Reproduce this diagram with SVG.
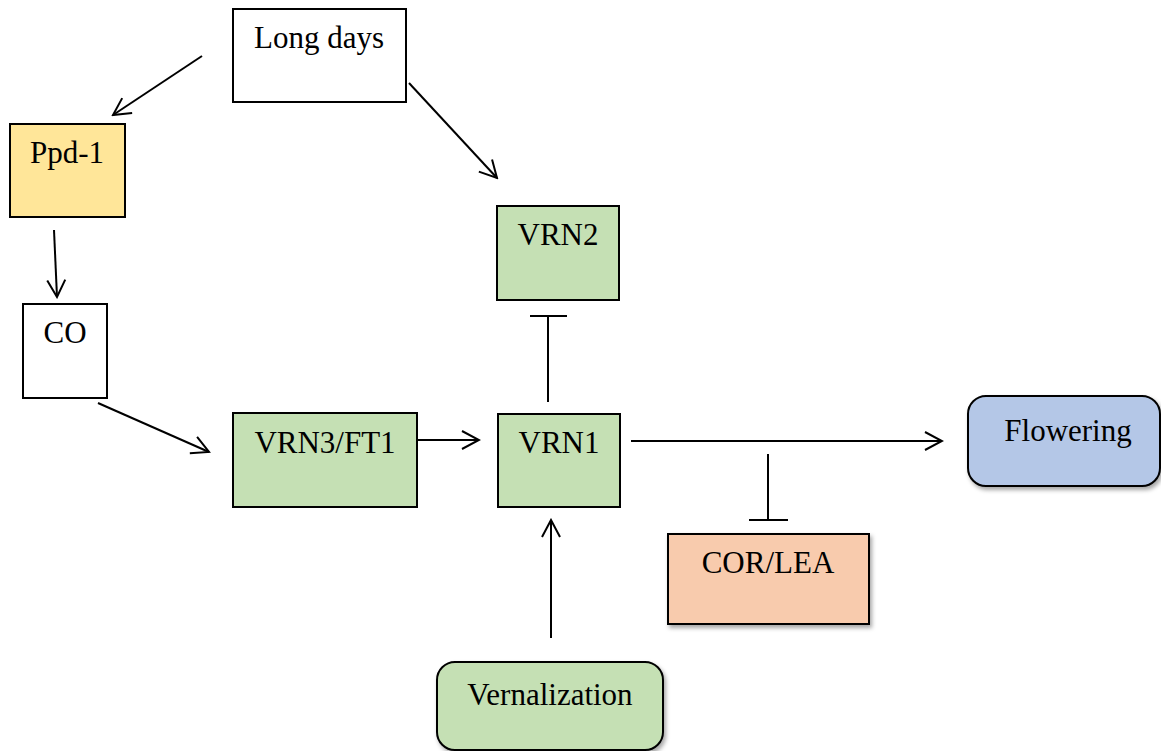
<svg xmlns="http://www.w3.org/2000/svg" width="1161" height="751" viewBox="0 0 1161 751">
  <style>
    .box { stroke: #000; stroke-width: 2; }
    .lbl { font-family: "Liberation Serif", "Times New Roman", serif; font-size: 31px; fill: #000; text-anchor: middle; }
    .conn { stroke: #000; stroke-width: 2; fill: none; }
  </style>
  <defs>
    <marker id="arr" viewBox="-19 -11 21 22" markerWidth="21" markerHeight="22" refX="0" refY="0" orient="auto" markerUnits="userSpaceOnUse">
      <path d="M-17,-9 L0,0 L-17,9" fill="none" stroke="#000" stroke-width="2"/>
    </marker>
    <filter id="sh" x="-10%" y="-10%" width="125%" height="130%">
      <feDropShadow dx="2" dy="3" stdDeviation="2" flood-color="#000" flood-opacity="0.35"/>
    </filter>
  </defs>
  <rect width="1161" height="751" fill="#fff"/>

  <g id="connectors">
    <line class="conn" x1="202" y1="56" x2="113" y2="115" marker-end="url(#arr)"/>
    <line class="conn" x1="409" y1="83" x2="497" y2="178" marker-end="url(#arr)"/>
    <line class="conn" x1="54" y1="230" x2="57" y2="297" marker-end="url(#arr)"/>
    <line class="conn" x1="98" y1="403" x2="209" y2="452" marker-end="url(#arr)"/>
    <line class="conn" x1="417" y1="440" x2="479" y2="440" marker-end="url(#arr)"/>
    <line class="conn" x1="631" y1="441" x2="942" y2="441" marker-end="url(#arr)"/>
    <line class="conn" x1="551" y1="638" x2="551" y2="520" marker-end="url(#arr)"/>
    <line class="conn" x1="548" y1="402" x2="548" y2="316"/>
    <line class="conn" x1="530" y1="316" x2="567" y2="316"/>
    <line class="conn" x1="768" y1="454" x2="768" y2="520"/>
    <line class="conn" x1="749" y1="520" x2="788" y2="520"/>
  </g>

  <g id="long-days">
    <rect class="box" x="233" y="9" width="173" height="93" fill="#fff"/>
    <text class="lbl" x="319" y="48">Long days</text>
  </g>
  <g id="ppd1">
    <rect class="box" x="10" y="124" width="115" height="93" fill="#FFE699"/>
    <text class="lbl" x="67" y="163">Ppd-1</text>
  </g>
  <g id="co">
    <rect class="box" x="23" y="304" width="84" height="94" fill="#fff"/>
    <text class="lbl" x="65" y="343">CO</text>
  </g>
  <g id="vrn2">
    <rect class="box" x="497" y="206" width="122" height="94" fill="#C5E0B4"/>
    <text class="lbl" x="558" y="245">VRN2</text>
  </g>
  <g id="vrn3-ft1">
    <rect class="box" x="233" y="413" width="184" height="94" fill="#C5E0B4"/>
    <text class="lbl" x="325" y="453">VRN3/FT1</text>
  </g>
  <g id="vrn1">
    <rect class="box" x="498" y="414" width="122" height="93" fill="#C5E0B4"/>
    <text class="lbl" x="559" y="453">VRN1</text>
  </g>
  <g id="flowering">
    <rect class="box" x="968" y="396" width="192" height="90" rx="18" ry="18" fill="#B4C7E7" filter="url(#sh)"/>
    <text class="lbl" x="1068" y="441">Flowering</text>
  </g>
  <g id="cor-lea">
    <rect class="box" x="668" y="534" width="201" height="90" fill="#F8CBAD" filter="url(#sh)"/>
    <text class="lbl" x="768" y="573">COR/LEA</text>
  </g>
  <g id="vernalization">
    <rect class="box" x="437" y="662" width="226" height="88" rx="18" ry="18" fill="#C5E0B4" filter="url(#sh)"/>
    <text class="lbl" x="550" y="705">Vernalization</text>
  </g>
</svg>
